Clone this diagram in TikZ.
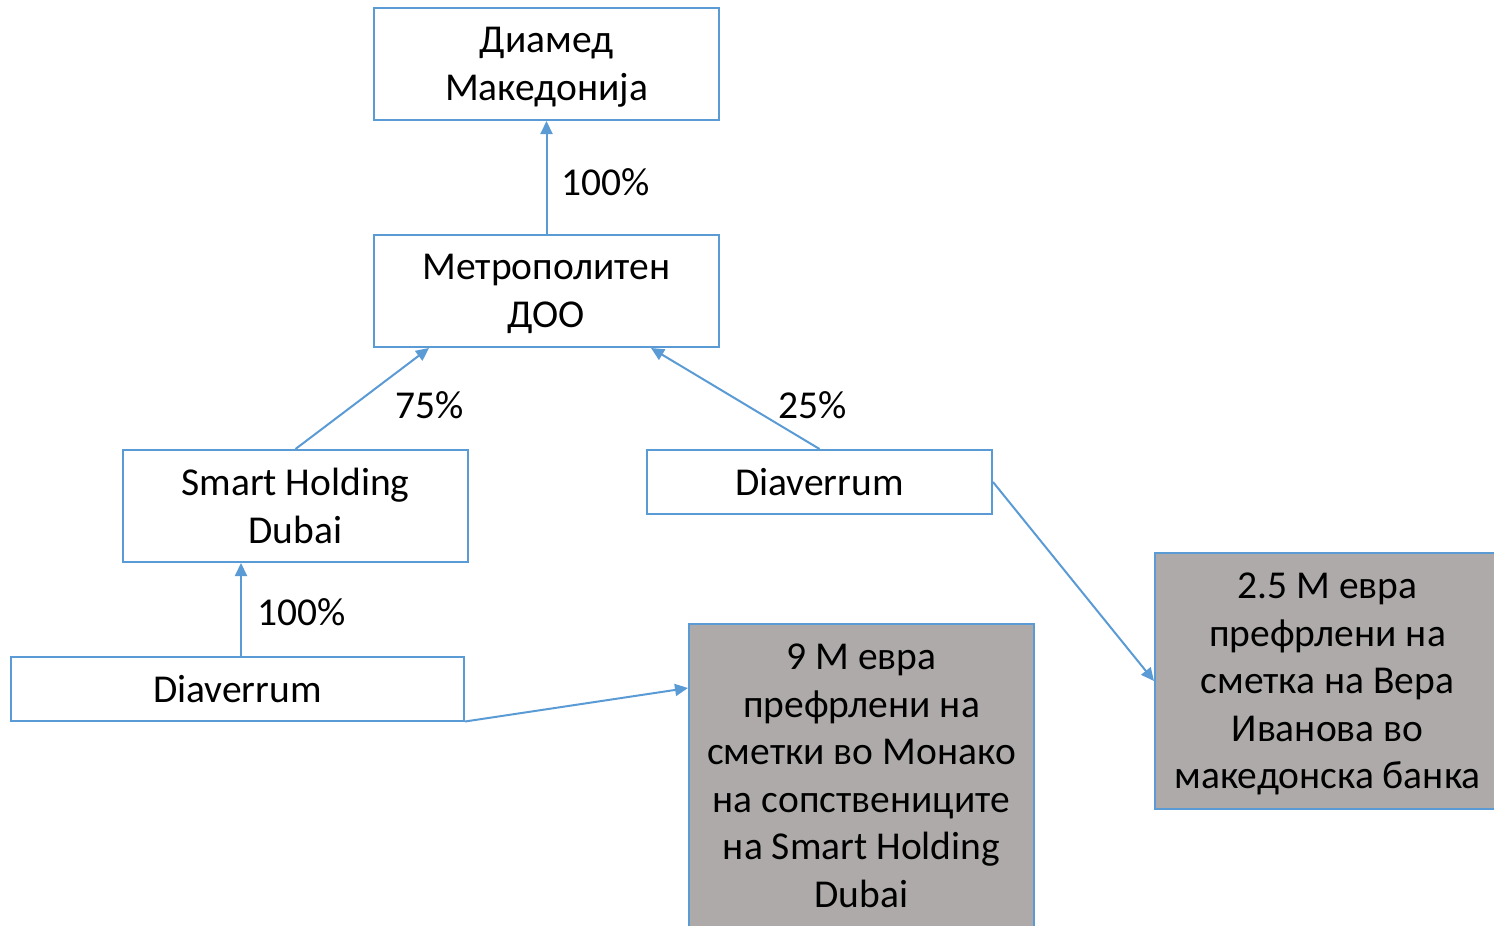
\documentclass[tikz,border=0pt]{standalone}
\usepackage{fontspec}
\setmainfont{Carlito}
\usetikzlibrary{arrows.meta}

\begin{document}
\begin{tikzpicture}[x=1pt,y=-1pt,
  firmbox/.style={draw=boxblue,line width=2pt,fill=white,align=center,inner sep=0pt,text depth=0pt,minimum width=345pt,minimum height=112pt},
  flatbox/.style={firmbox,minimum height=64pt},
  moneybox/.style={firmbox,fill=moneygray,minimum height=256pt},
  share/.style={draw=boxblue,line width=2pt,-{Triangle[length=13pt,width=12pt]}},
  sharelabel/.style={inner sep=0pt}]
\definecolor{boxblue}{HTML}{5B9BD5}
\definecolor{moneygray}{HTML}{AEAAAA}
\useasboundingbox (0,0) rectangle (1494,926);
\clip (0,0) rectangle (1494,926);
\fontsize{39.5}{47.5}\selectfont
\node [firmbox] (diamed) at (546.5,64) {Диамед\\Македонија};
\node [firmbox] (metro) at (546.5,291) {Метрополитен\\ДОО};
\node [firmbox] (smart) at (295.5,506) {Smart Holding\\Dubai};
\node [flatbox] (diavright) at (819.5,482) {Diaverrum};
\node [flatbox,minimum width=453pt] (diavleft) at (237.5,688.5) {Diaverrum};
\node [moneybox,minimum height=303pt] (ninem) at (861.5,775.5) {9 М евра\\префрлени на\\сметки во Монако\\на сопствениците\\на Smart Holding\\Dubai};
\node [moneybox] (twom) at (1327.5,681) {2.5 М евра\\префрлени на\\сметка на Вера\\Иванова во\\македонска банка};
% ownership
\draw [share] (metro.north) -- (diamed.south);
\draw [share] (smart.north) -- ([xshift=56pt]metro.south west);
\draw [share] (diavright.north) -- ([xshift=-69pt]metro.south east);
\draw [share] ([xshift=3.5pt]diavleft.north) -- ([xshift=-54.5pt]smart.south);
% transfers
\draw [share] (diavleft.south east) -- ([yshift=-65pt]ninem.north west);
\draw [share] (diavright.east) -- (twom.west);
\node [sharelabel] (lbltop) at (606,182) {100\%};
\node [sharelabel] (lblsf) at (430,405) {75\%};
\node [sharelabel] (lbltf) at (813,405) {25\%};
\node [sharelabel] (lblsmart) at (302,612) {100\%};
\end{tikzpicture}
\end{document}
